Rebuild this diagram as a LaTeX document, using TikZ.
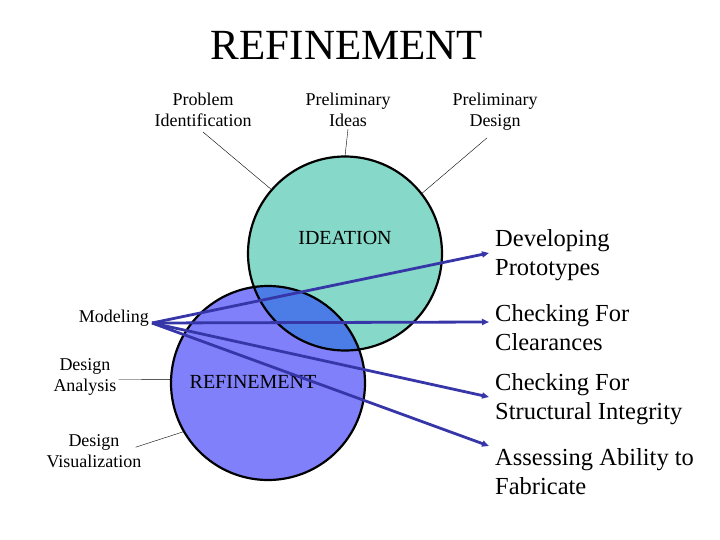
\documentclass[tikz,border=0pt]{standalone}
\usepackage{fontspec}
\setmainfont{Liberation Serif}
\usetikzlibrary{arrows.meta,positioning}
\definecolor{Ideate}{HTML}{86D8C8}
\definecolor{Refine}{HTML}{8080FA}
\definecolor{Overlap}{HTML}{4C7CE6}
\definecolor{Pointer}{HTML}{3636A8}

\tikzset{
  small/.style={font=\fontsize{18}{21}\selectfont, align=center, inner sep=2pt},
  big/.style={font=\fontsize{24.5}{29}\selectfont, align=left, anchor=west, inner sep=0pt},
  ring/.style={circle, minimum size=194pt, inner sep=0pt},
}

\begin{document}
\begin{tikzpicture}[x=1pt, y=-1pt, >={Triangle[length=7pt,width=6pt]}]
    \useasboundingbox (0,0) rectangle (720,540);
    % the two circles
    \node[ring, fill=Refine] (refinement) at (268,383) {};
    \node[ring, fill=Ideate] (ideation) at (345,253.5) {};
    \begin{scope}
      \clip (268,383) circle[radius=97pt];
      \fill[Overlap] (345,253.5) circle[radius=97pt];
    \end{scope}
    \draw[line width=2.2pt] (refinement.center) circle[radius=97pt];
    \draw[line width=2.2pt] (ideation.center) circle[radius=97pt];

    \node[font=\fontsize{43}{50}\selectfont] (title) at (347,45) {REFINEMENT};
    \node[font=\fontsize{20}{24}\selectfont] (ideatext) at (345,238) {IDEATION};
    \node[font=\fontsize{20}{24}\selectfont] (refinetext) at (253,382) {REFINEMENT};

    % labels round the top circle
    \node[small] (probid) at (203,110) {Problem\\Identification};
    \node[small] (prelideas) at (348,110) {Preliminary\\Ideas};
    \node[small] (preldesign) at (495,112) {Preliminary\\Design};
    \draw[thin] (probid.south) ++(0,3) -- (ideation.139);
    \draw[thin] (prelideas.south) -- (ideation.north);
    \draw[thin] (preldesign.south) ++(-8,5) -- (ideation.38);

    % labels left of the lower circle
    \node[small, anchor=east] (modeling) at (151,318) {Modeling};
    \node[small] (analysis) at (85,377) {Design\\Analysis};
    \node[small] (visual) at (94,451) {Design\\Visualization};
    \draw[thin] (analysis.east) ++(0,2.5) -- (refinement.178);
    \draw[thin] (visual.north east) ++(-8,15) -- (refinement.210);

    % outcomes on the right
    \node[big] (proto) at (495,255.5) {Developing\\Prototypes};
    \node[big] (clear) at (495,327.5) {Checking For\\Clearances};
    \node[big] (struct) at (495,399.5) {Checking For\\Structural Integrity};
    \node[big] (fab) at (495,471.5) {Assessing Ability to\\Fabricate};
    \coordinate (tproto) at (489,253);
    \coordinate (tclear) at (489,322);
    \coordinate (tstruct) at (489,397);
    \coordinate (tfab) at (489,446);
    \foreach \t in {tproto,tclear,tstruct,tfab}
      \draw[->, Pointer, line width=2.8pt] (modeling.east) ++(1,5) -- (\t);
\end{tikzpicture}
\end{document}
